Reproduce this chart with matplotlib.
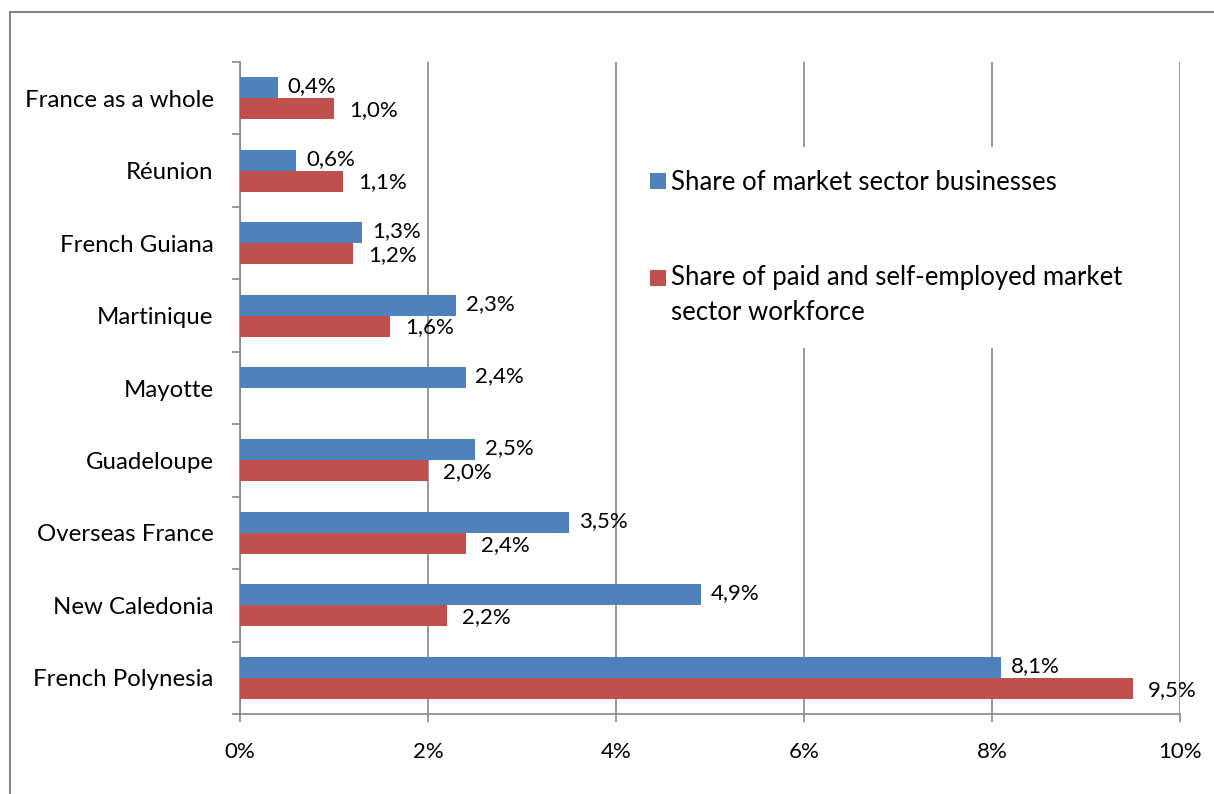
import numpy as np
import matplotlib
matplotlib.use("Agg")
import matplotlib.pyplot as plt
from matplotlib.patches import Rectangle, Patch
from matplotlib.legend_handler import HandlerPatch

plt.rcParams['font.family'] = ['Lato', 'DejaVu Sans']

categories = ["France as a whole", "Réunion", "French Guiana", "Martinique", "Mayotte",
              "Guadeloupe", "Overseas France", "New Caledonia", "French Polynesia"]
businesses = [0.4, 0.6, 1.3, 2.3, 2.4, 2.5, 3.5, 4.9, 8.1]
workforce = [1.0, 1.1, 1.2, 1.6, None, 2.0, 2.4, 2.2, 9.5]
series_names = ["Share of market sector businesses",
                "Share of paid and self-employed market\nsector workforce"]
xticks = [0, 2, 4, 6, 8, 10]
xticklabels = ["0%", "2%", "4%", "6%", "8%", "10%"]

BLUE = "#4F81BD"
RED = "#C0504D"
GRID = "#868686"

W, H = 1214, 794
fig = plt.figure(figsize=(W / 100, H / 100), dpi=100)
ax = fig.add_axes([240 / W, 1 - 714 / H, (1180 - 240) / W, (714 - 62) / H])

y = np.arange(len(categories))
h = 0.29
bvals = np.array(businesses, dtype=float)
wvals = np.array([np.nan if v is None else v for v in workforce], dtype=float)
ax.barh(y - h / 2, bvals, height=h, color=BLUE, zorder=3)
ax.barh(y + h / 2, np.nan_to_num(wvals), height=h, color=RED, zorder=3)

fs = 16
def fmt(v):
    return f"{v:.1f}".replace(".", ",") + "%"

for i, v in enumerate(bvals):
    ax.annotate(fmt(v), (v, y[i] - h / 2), xytext=(7, 1), textcoords="offset points",
                va="center", ha="left", fontsize=fs, zorder=5)
for i, v in enumerate(wvals):
    if np.isnan(v):
        continue
    ax.annotate(fmt(v), (v, y[i] + h / 2), xytext=(11, -1), textcoords="offset points",
                va="center", ha="left", fontsize=fs, zorder=5)

ax.set_xlim(0, 10)
ax.set_ylim(len(categories) - 0.5, -0.5)
ax.set_xticks(xticks)
ax.set_xticklabels(xticklabels, fontsize=fs)
ax.set_yticks(y)
ax.set_yticklabels(categories, fontsize=17.3)
ax.set_yticks(np.arange(len(categories) + 1) - 0.5, minor=True)
ax.tick_params(axis="y", which="major", length=0, pad=19)
ax.tick_params(axis="y", which="minor", length=6, color=GRID, width=1.2)
ax.tick_params(axis="x", which="major", length=6, color=GRID, width=1.2, pad=14)
ax.xaxis.grid(True, color=GRID, linewidth=1.2, zorder=0)
for s in ["top", "right"]:
    ax.spines[s].set_visible(False)
for s in ["left", "bottom"]:
    ax.spines[s].set_color(GRID)
    ax.spines[s].set_linewidth(1.2)


class SquareHandler(HandlerPatch):
    def __init__(self, size, dy=0.0, **kw):
        super().__init__(**kw)
        self.size = size
        self.dy = dy

    def create_artists(self, legend, orig_handle, xdescent, ydescent, width, height,
                       fontsize, trans):
        s = self.size
        r = Rectangle((-xdescent + width - s, -ydescent + (height - s) / 2 + self.dy), s, s,
                      facecolor=orig_handle.get_facecolor(), edgecolor="none")
        r.set_transform(trans)
        return [r]


lfs = 18.5
handles = [Patch(facecolor=BLUE), Patch(facecolor=RED)]
leg = fig.legend(handles, series_names, loc="upper left",
                 bbox_to_anchor=(617 / W, 1 - 147 / H), frameon=True,
                 fontsize=lfs, handlelength=1.0, handleheight=0.6,
                 handletextpad=0.2, labelspacing=2.7, borderpad=0.9, borderaxespad=0,
                 handler_map={handles[0]: SquareHandler(11.5),
                              handles[1]: SquareHandler(11.5, dy=12.3)})
leg.get_frame().set_edgecolor("none")
leg.get_frame().set_facecolor("white")
leg.get_frame().set_alpha(1)
leg.set_zorder(10)
for t in leg.get_texts():
    t.set_linespacing(1.5)

fig.patches.append(Rectangle((10 / W, -0.1), 1.2, 1.1 - 12 / H, transform=fig.transFigure,
                             fill=False, edgecolor=GRID, linewidth=1.5))

fig.savefig("out.png", dpi=100)
